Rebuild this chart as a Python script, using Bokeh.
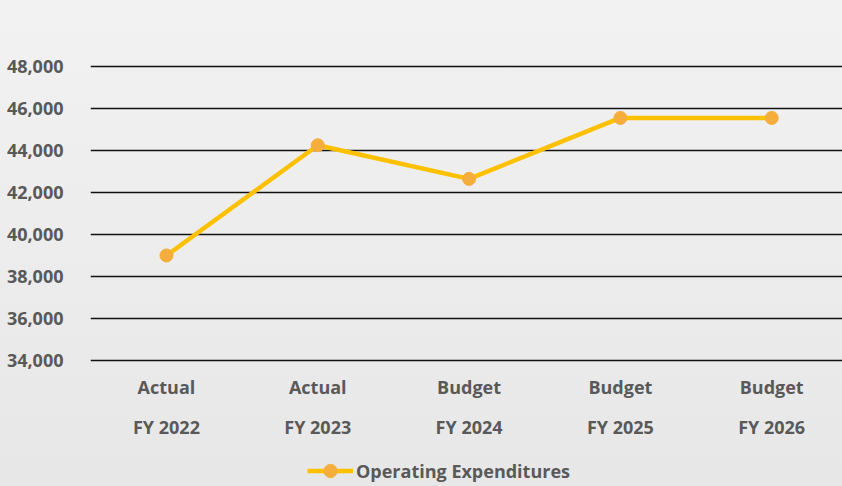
from bokeh.plotting import figure
from bokeh.layouts import column
from bokeh.models import Range1d, FixedTicker, LinearAxis, Legend, LegendItem, NumeralTickFormatter
from bokeh.embed import file_html
from bokeh.resources import INLINE

# ---- data ----
years = ["FY 2022", "FY 2023", "FY 2024", "FY 2025", "FY 2026"]
kinds = ["Actual", "Actual", "Budget", "Budget", "Budget"]
opex = [39000, 44250, 42650, 45550, 45550]
y_ticks = [34000, 36000, 38000, 40000, 42000, 44000, 46000, 48000]
series_name = "Operating Expenditures"

FONT = "Open Sans"
TXT = "#595959"
FS = "18px"
LINE_C = "#FFC000"
MARK_C = "#F5AD3C"

x = list(range(len(years)))

p = figure(width=842, height=452, output_backend="svg", toolbar_location=None,
           x_range=Range1d(-0.502, 4.468), y_range=Range1d(33714, 48381),
           min_border_left=90, min_border_right=0, min_border_top=58, min_border_bottom=86,
           x_axis_location=None, y_axis_location="left")
p.background_fill_alpha = 0
p.border_fill_alpha = 0
p.outline_line_color = None
p.xgrid.visible = False

# y axis
ya = p.yaxis[0]
ya.ticker = FixedTicker(ticks=y_ticks)
ya.formatter = NumeralTickFormatter(format="0,0")
ya.axis_line_color = None
ya.major_tick_line_color = None
ya.minor_tick_line_color = None
ya.major_label_standoff = 21
ya.major_label_text_font = FONT
ya.major_label_text_font_style = "bold"
ya.major_label_text_font_size = FS
ya.major_label_text_color = TXT

p.ygrid.ticker = FixedTicker(ticks=y_ticks)
p.ygrid.grid_line_color = "#111111"
p.ygrid.grid_line_width = 1.5

# two-row category axis
def cat_axis(labels, standoff):
    ax = LinearAxis(ticker=FixedTicker(ticks=x),
                    major_label_overrides={i: labels[i] for i in x})
    ax.axis_line_color = None
    ax.major_tick_line_color = None
    ax.minor_tick_line_color = None
    ax.major_tick_out = 0
    ax.major_tick_in = 0
    ax.major_label_standoff = standoff
    ax.major_label_text_font = FONT
    ax.major_label_text_font_style = "bold"
    ax.major_label_text_font_size = FS
    ax.major_label_text_color = TXT
    return ax

p.add_layout(cat_axis(kinds, 8), "below")
p.add_layout(cat_axis(years, 13), "below")

p.line(x, opex, line_color=LINE_C, line_width=4.5)
p.scatter(x, opex, size=13, fill_color=MARK_C, line_color=MARK_C)

# legend strip (same series drawn out of view; only its legend shows)
lf = figure(width=842, height=34, output_backend="svg", toolbar_location=None,
            x_range=Range1d(100, 101), y_range=Range1d(0, 1),
            x_axis_location=None, y_axis_location=None,
            min_border=0, min_border_left=0, min_border_right=0, min_border_top=0, min_border_bottom=0)
lf.background_fill_alpha = 0
lf.border_fill_alpha = 0
lf.outline_line_color = None
lf.grid.visible = False
lr = lf.line(x, opex, line_color=LINE_C, line_width=4.5)
cr = lf.scatter(x, opex, size=13, fill_color=MARK_C, line_color=MARK_C)
legend = Legend(items=[LegendItem(label=series_name, renderers=[lr, cr])],
                location=(217, -1), orientation="horizontal")
legend.border_line_color = None
legend.background_fill_alpha = 0
legend.glyph_width = 46
legend.glyph_height = 33
legend.label_standoff = 3
legend.padding = 0
legend.margin = 0
legend.label_text_font = FONT
legend.label_text_font_style = "bold"
legend.label_text_font_size = FS
legend.label_text_color = TXT
lf.add_layout(legend)

root = column(p, lf, spacing=0)
root.styles = {"background": "linear-gradient(#f2f2f2, #e7e7e7)"}

open("out.html", "w").write(file_html(root, INLINE))
